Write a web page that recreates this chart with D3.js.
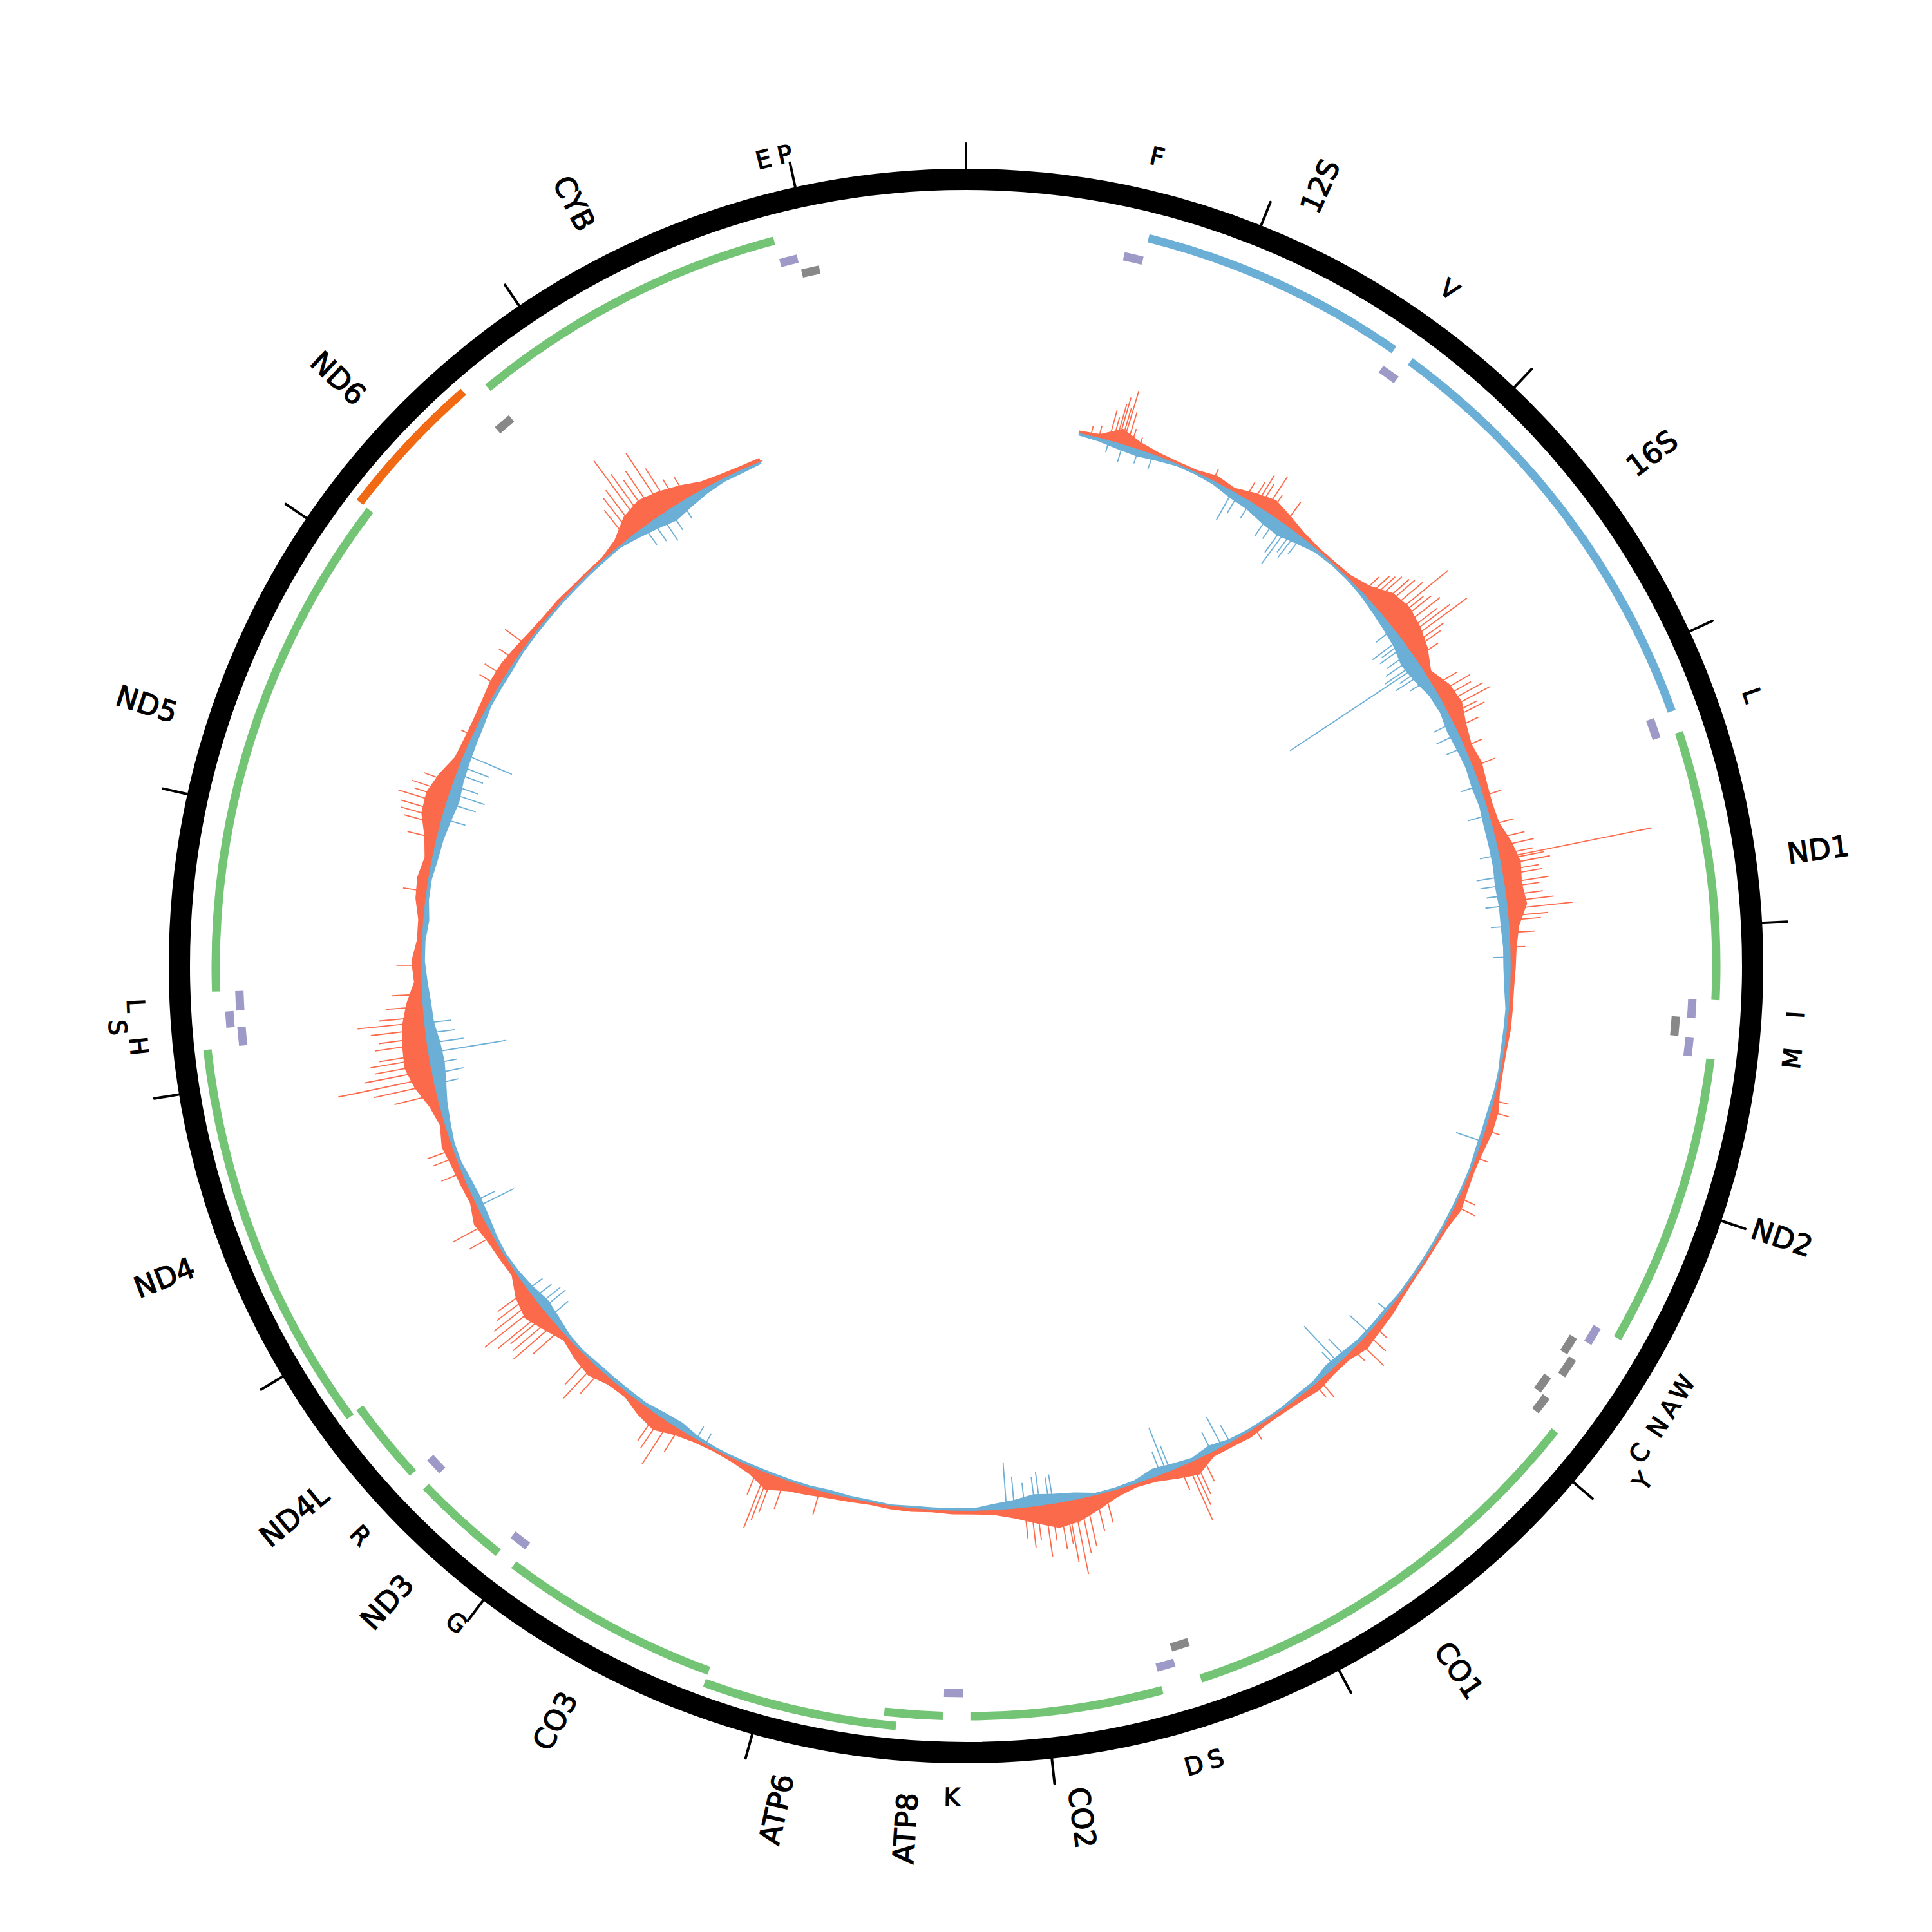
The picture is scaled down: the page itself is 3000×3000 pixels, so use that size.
<!DOCTYPE html>
<html>
<head>
<meta charset="utf-8">
<script src="https://cdn.jsdelivr.net/npm/d3@7"></script>
<style>
  body { margin: 0; background: #fff; }
  text { font-family: "DejaVu Sans", sans-serif; fill: #000; stroke: #000; stroke-width: 1.3px; }
</style>
</head>
<body>
<div class="plot"></div>
<script>
// mitochondrial genome map with per-base coverage track

var genomeLength = 16569;
var tickStep = 1000;

// protein coding genes and rRNAs
var geneNames  = ["12S", "16S", "ND1", "ND2", "CO1", "CO2", "ATP8", "ATP6", "CO3", "ND3", "ND4L", "ND4", "ND5", "ND6", "CYB"];
var geneStarts = [648, 1671, 3307, 4470, 5904, 7586, 8366, 8527, 9207, 10059, 10470, 10760, 12337, 14149, 14747];
var geneEnds   = [1601, 3229, 4262, 5511, 7445, 8269, 8572, 9207, 9990, 10404, 10766, 12137, 14148, 14673, 15887];
var geneKinds  = ["rRNA", "rRNA", "H", "H", "H", "H", "H", "H", "H", "H", "H", "H", "H", "L", "H"];

// tRNAs (empty label = not written)
var trnaLabels  = ["F", "V", "L", "I", "", "M", "W", "A", "N", "C", "Y", "S", "D", "K", "G", "R", "H", "S", "L", "", "E", "P"];
var trnaStarts  = [577, 1602, 3230, 4263, 4329, 4402, 5512, 5587, 5657, 5761, 5826, 7446, 7518, 8295, 9991, 10405, 12138, 12207, 12266, 14674, 15888, 15956];
var trnaEnds    = [647, 1670, 3304, 4331, 4400, 4469, 5579, 5655, 5729, 5826, 5891, 7514, 7585, 8364, 10058, 10469, 12206, 12265, 12336, 14742, 15953, 16023];
var trnaStrands = ["H", "H", "H", "H", "L", "H", "H", "L", "L", "L", "L", "L", "H", "H", "H", "H", "H", "H", "H", "L", "H", "L"];

// coverage track, 100 bp bins starting at 500
var binStart = 500, binSize = 100;
var fwdCore = [2,3,12,6,3,2,2,5,3,8,12,8,4,2,2,3,8,18,21,18,13,5,12,14,9,6,8,6,5,6,
  12,16,14,16,8,5,4,3,3,3,2,2,3,6,6,4,3,4,6,3,2,2,2,3,5,6,8,4,4,6,
  4,3,3,5,4,4,12,8,4,3,6,12,18,20,14,8,4,3,3,2,3,3,2,3,4,6,8,13,6,3,
  2,3,6,12,9,4,5,10,8,4,10,16,12,4,5,6,9,4,5,6,8,4,8,16,21,20,18,13,6,8,
  4,4,8,9,6,10,17,18,13,6,5,5,6,8,8,6,4,3,3,2,2,2,6,16,20,17,12,6,4,3,3];
var revCore = [2,3,5,6,4,2,2,3,6,7,10,11,7,3,2,2,3,5,7,9,13,11,7,6,8,7,6,7,6,7,
  7,7,8,7,7,6,6,5,3,3,3,2,2,3,3,3,2,2,2,2,2,2,2,2,3,3,3,5,6,3,
  3,2,2,2,3,6,3,5,7,3,2,2,6,8,10,7,5,2,2,2,2,1,2,2,3,2,2,2,2,2,
  2,3,6,5,3,3,3,3,2,3,6,8,5,3,2,3,5,6,5,3,3,5,7,10,12,11,8,7,5,3,
  3,5,3,3,5,6,8,10,8,7,6,5,3,3,3,2,2,2,2,2,2,2,2,5,8,11,8,5,3,3,2];

// single positions that stand out of the core
var fwdSpikes = [[610,8],[650,10],[700,25],[720,20],[735,32],[745,38],[760,30],[770,45],[790,28],[810,15],[850,10],
  [1240,10],[1420,15],[1460,20],[1480,28],[1500,22],[1533,33],[1560,18],[1648,22],
  [2150,18],[2180,25],[2200,28],[2220,32],[2251,35],[2270,38],[2300,42],[2330,64],[2350,35],[2370,40],[2400,45],
  [2430,38],[2450,48],[2472,62],[2500,35],[2520,30],[2560,22],[2720,22],[2760,30],[2790,28],[2820,36],[2850,40],
  [2880,25],[2900,30],[2950,20],[3050,15],[3155,19],[3305,15],[3450,18],[3520,24],[3560,30],[3600,28],[3618,125],
  [3627,36],[3650,40],[3680,30],[3700,32],[3740,36],[3760,28],[3800,30],[3830,38],[3866,53],[3900,32],[3920,26],
  [3980,20],[4050,12],[4800,12],[4857,15],[4950,12],[5090,10],[5300,14],[5345,18],[6050,14],[6100,20],[6155,27],
  [6200,14],[6421,18],[6450,14],[6812,11],[7100,22],[7140,30],[7160,38],[7180,50],[7220,20],[7603,25],[7650,30],
  [7700,40],[7730,45],[7760,61],[7790,50],[7800,35],[7830,38],[7870,30],[7900,42],[7940,28],[7968,33],[8000,25],
  [9002,20],[9180,25],[9240,32],[9260,40],[9278,48],[9320,22],[9750,22],[9805,40],[9850,30],[9880,26],
  [10220,25],[10262,37],[10300,28],[10500,30],[10540,44],[10570,40],[10600,38],[10620,48],[10660,56],[10690,42],
  [10720,35],[10750,30],[11060,22],[11125,31],[11400,18],[11480,20],[11520,22],[11800,35],[11850,50],[11884,78],
  [11920,55],[11950,45],[11980,48],[12000,40],[12050,42],[12080,38],[12120,44],[12155,54],[12180,36],[12230,30],
  [12290,24],[12430,20],[12790,19],[13050,24],[13120,30],[13150,34],[13180,36],[13220,40],[13250,28],[13280,32],
  [13330,25],[13580,10],[13850,18],[13905,19],[14000,16],[14090,21],[14800,30],[14830,38],[14860,42],[14895,67],
  [14920,50],[14950,40],[14980,45],[15025,57],[15060,38],[15100,23],[15150,20]];
var revSpikes = [[700,10],[770,15],[850,12],[925,13],[1349,27],[1380,18],[1450,16],[1560,22],[1600,20],[1650,28],
  [1671,37],[1700,22],[1720,25],[1750,18],[2380,18],[2440,29],[2460,22],[2480,26],[2520,24],[2550,28],[2580,32],
  [2596,126],[2620,22],[2640,28],[2680,18],[2920,18],[2980,20],[3050,16],[3250,16],[3400,18],[3600,16],[3707,22],
  [3750,20],[3800,16],[3850,18],[3950,15],[4100,14],[5006,22],[5950,10],[6090,21],[6250,20],[6297,41],[6320,16],
  [6950,16],[6993,27],[7050,18],[7270,22],[7290,39],[7320,20],[7860,24],[7880,22],[7925,28],[7950,24],[8000,20],
  [8050,26],[8088,38],[9600,10],[9650,12],[10580,20],[10633,24],[10660,22],[10700,18],[10750,15],[11220,33],
  [11250,18],[11850,20],[11900,26],[11950,22],[12004,64],[12050,30],[12100,24],[12150,22],[13150,20],[13230,25],
  [13280,30],[13320,22],[13380,23],[13420,26],[13480,42],[14900,18],[14950,20],[15000,25],[15050,20],[15120,16]];
var coverageFrom = 557, coverageTo = 15560;

var width = 3000, height = 3000;
var cx = 1500, cy = 1500;

var svg = d3.select(".plot")
  .append("svg")
    .attr("width", width)
    .attr("height", height)
  .append("g")
    .attr("transform", "translate(" + cx + "," + cy + ")");

var ang = d3.scaleLinear().domain([0, genomeLength]).range([0, 2 * Math.PI]);
var deg = function(bp) { return bp / genomeLength * 360; };

// ---- coverage track ----
var base = 846;
var depth = d3.scaleLinear().domain([0, 125]).range([0, 240]);

var fwdBins = fwdCore.map(function(v, i) { return {pos: binStart + i * binSize + binSize / 2, v: v}; });
var revBins = revCore.map(function(v, i) { return {pos: binStart + i * binSize + binSize / 2, v: v}; });

svg.append("path")
  .attr("d", d3.arc()({innerRadius: base - 1, outerRadius: base + 1,
       startAngle: ang(coverageFrom), endAngle: ang(coverageTo)}))
  .attr("fill", "#999");

var spikeLine = d3.lineRadial();

svg.selectAll(".rev")
  .data(revSpikes)
  .enter().append("path")
    .attr("class", "rev")
    .attr("d", function(d) { return spikeLine([[ang(d[0]), base], [ang(d[0]), base - depth(d[1])]]); })
    .attr("stroke", "#6baed6")
    .attr("stroke-width", 1.8)
    .attr("fill", "none");

svg.selectAll(".fwd")
  .data(fwdSpikes)
  .enter().append("path")
    .attr("class", "fwd")
    .attr("d", function(d) { return spikeLine([[ang(d[0]), base], [ang(d[0]), base + depth(d[1])]]); })
    .attr("stroke", "#fb6a4a")
    .attr("stroke-width", 1.8)
    .attr("fill", "none");

svg.append("path")
  .datum(revBins)
  .attr("d", d3.areaRadial()
     .angle(function(d) { return ang(d.pos); })
     .innerRadius(function(d) { return base - depth(d.v); })
     .outerRadius(base))
  .attr("fill", "#6baed6");

svg.append("path")
  .datum(fwdBins)
  .attr("d", d3.areaRadial()
     .angle(function(d) { return ang(d.pos); })
     .innerRadius(base)
     .outerRadius(function(d) { return base + depth(d.v); }))
  .attr("fill", "#fb6a4a");

// ---- gene track ----
var geneColor = {H: "#74c476", L: "#f16913", rRNA: "#6baed6"};
var genes = geneNames.map(function(n, i) {
  return {name: n, start: geneStarts[i], end: geneEnds[i], kind: geneKinds[i]};
});
// overlapping genes get pushed out one step
genes.forEach(function(g, i) {
  var prev = genes[i - 1];
  g.bump = prev && !prev.bump && g.start - prev.end <= 5;
});

svg.selectAll(".gene")
  .data(genes)
  .enter().append("path")
    .attr("class", "gene")
    .attr("d", function(d) {
      var r = d.bump ? 1185 : 1165;
      return d3.arc()({innerRadius: r - 6.5, outerRadius: r + 6.5,
                       startAngle: ang(d.start), endAngle: ang(d.end)});
    })
    .attr("fill", function(d) { return geneColor[d.kind]; });

var trnas = trnaLabels.map(function(n, i) {
  return {label: n, start: trnaStarts[i], end: trnaEnds[i], strand: trnaStrands[i]};
});
["H", "L"].forEach(function(s) {
  var prev = null;
  trnas.filter(function(t) { return t.strand === s; }).forEach(function(t) {
    t.bump = prev && !prev.bump && t.start - prev.end <= 5;
    prev = t;
  });
});

svg.selectAll(".trna")
  .data(trnas)
  .enter().append("path")
    .attr("class", "trna")
    .attr("d", function(d) {
      var r = (d.strand === "H" ? 1129 : 1105) + (d.bump ? 17 : 0);
      return d3.arc()({innerRadius: r - 6.5, outerRadius: r + 6.5,
                       startAngle: ang(d.start), endAngle: ang(d.end)});
    })
    .attr("fill", function(d) { return d.strand === "H" ? "#9e9ac8" : "#888888"; });

// ---- outer ring and ticks ----
svg.append("circle")
  .attr("r", 1221.5)
  .attr("fill", "none")
  .attr("stroke", "#000")
  .attr("stroke-width", 33);

svg.selectAll(".tick")
  .data(d3.range(0, genomeLength, tickStep))
  .enter().append("path")
    .attr("class", "tick")
    .attr("d", function(d) { return spikeLine([[ang(d), 1236], [ang(d), 1277]]); })
    .attr("stroke", "#000")
    .attr("stroke-width", 4)
    .attr("stroke-linecap", "round");

// gene labels, radial
svg.selectAll(".glabel")
  .data(genes)
  .enter().append("text")
    .attr("class", "glabel")
    .attr("transform", function(d) {
      var a = deg((d.start + d.end) / 2);
      return "rotate(" + (a - 90) + ") translate(1287,0)" + (a > 180 ? " rotate(180)" : "");
    })
    .attr("text-anchor", function(d) { return deg((d.start + d.end) / 2) > 180 ? "end" : "start"; })
    .attr("dominant-baseline", "central")
    .style("font-size", "45px")
    .text(function(d) { return d.name; });

// tRNA labels, tangential
var shown = trnas.filter(function(t) { return t.label !== ""; });
shown.forEach(function(t, i) {
  t.mid = (t.start + t.end) / 2;
  var prev = shown[i - 1];
  t.lbump = prev && !prev.lbump && t.mid - prev.mid < 68;
});

svg.selectAll(".tlabel")
  .data(shown)
  .enter().append("text")
    .attr("class", "tlabel")
    .attr("transform", function(d) {
      var a = deg(d.mid), r = d.lbump ? 1321 : 1291;
      var x = r * Math.sin(ang(d.mid)), y = -r * Math.cos(ang(d.mid));
      var rot = (a > 90 && a < 270) ? a - 180 : a;
      return "translate(" + x + "," + y + ") rotate(" + rot + ")";
    })
    .attr("text-anchor", "middle")
    .attr("dominant-baseline", "central")
    .style("font-size", "38px")
    .text(function(d) { return d.label; });
</script>
</body>
</html>
